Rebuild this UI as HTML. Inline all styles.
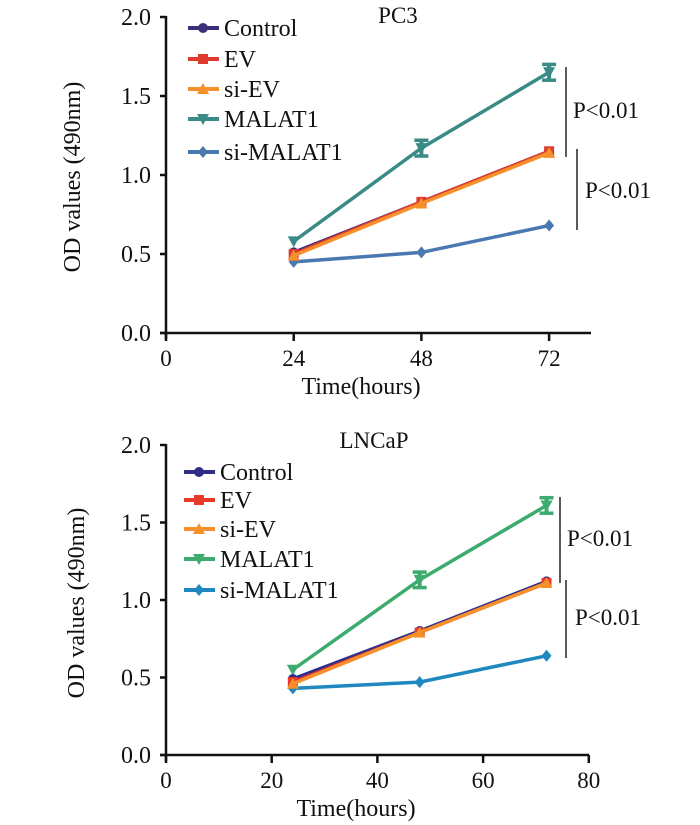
<!DOCTYPE html>
<html><head><meta charset="utf-8"><style>
html,body{margin:0;padding:0;background:#fff;width:700px;height:825px;overflow:hidden}
svg text{font-family:"Liberation Serif",serif;fill:#111}
</style></head><body>
<svg id="svg" width="700" height="825" xmlns="http://www.w3.org/2000/svg"></svg>
<script>
const seriesNames = ["Control","EV","si-EV","MALAT1","si-MALAT1"];
const xTimes = [24,48,72];
const pc3Control = [0.51,0.83,1.15];
const pc3EV = [0.50,0.83,1.15];
const pc3SiEV = [0.49,0.82,1.14];
const pc3MALAT1 = [0.58,1.17,1.65];
const pc3SiMALAT1 = [0.45,0.51,0.68];
const lnControl = [0.49,0.80,1.12];
const lnEV = [0.47,0.79,1.11];
const lnSiEV = [0.46,0.79,1.11];
const lnMALAT1 = [0.55,1.13,1.61];
const lnSiMALAT1 = [0.43,0.47,0.64];
const malatErr = [0,0.05,0.05];
const yTicks = [0,0.5,1.0,1.5,2.0];
const pc3XTicks = [0,24,48,72];
const lnXTicks = [0,20,40,60,80];

const NS="http://www.w3.org/2000/svg";
const svg=document.getElementById('svg');
function mk(tag,attrs,parent){const e=document.createElementNS(NS,tag);for(const k in attrs)e.setAttribute(k,attrs[k]);(parent||svg).appendChild(e);return e;}

function marker(g,shape,x,y,c){
  let e;
  if(shape==='circle'){e=mk('circle',{cx:x,cy:y,r:5,fill:c},g);}
  else if(shape==='square'){e=mk('rect',{x:x-5,y:y-5,width:10,height:10,fill:c},g);}
  else if(shape==='tri'){e=mk('polygon',{points:`${x},${y-6} ${x-6},${y+5} ${x+6},${y+5}`,fill:c},g);}
  else if(shape==='vtri'){e=mk('polygon',{points:`${x},${y+6} ${x-6},${y-5} ${x+6},${y-5}`,fill:c},g);}
  else {e=mk('polygon',{points:`${x},${y-6} ${x+5},${y} ${x},${y+6} ${x-5},${y}`,fill:c},g);}
  return e;
}

function chart(cfg){
  const g=mk('g',{});
  
  
  const X=v=>cfg.x0+(v-cfg.xmin)*cfg.xs;
  const Y=v=>cfg.y0-v*cfg.ys;
  const ya=mk('line',{x1:cfg.x0,y1:Y(2)-1,x2:cfg.x0,y2:cfg.y0+6,stroke:'#111','stroke-width':2.5},g);
  
  const xa=mk('line',{x1:cfg.x0-6,y1:cfg.y0,x2:cfg.xend,y2:cfg.y0,stroke:'#111','stroke-width':2.5},g);
  
  yTicks.forEach(t=>{
    mk('line',{x1:cfg.x0-6,y1:Y(t),x2:cfg.x0,y2:Y(t),stroke:'#111','stroke-width':2.5},g);
    const tx=mk('text',{x:cfg.x0-15,y:Y(t)+8,'text-anchor':'end','font-size':24},g);
    tx.textContent=t.toFixed(1);
    
  });
  cfg.xticks.forEach(t=>{
    mk('line',{x1:X(t),y1:cfg.y0,x2:X(t),y2:cfg.y0+8,stroke:'#111','stroke-width':2.5},g);
    const tx=mk('text',{x:X(t),y:cfg.y0+33,'text-anchor':'middle','font-size':23},g);
    tx.textContent=t;
    
  });
  const xt=mk('text',{x:cfg.xtitleX,y:cfg.y0+61,'text-anchor':'middle','font-size':24},g);
  xt.textContent='Time(hours)';
  const yt=mk('text',{x:0,y:0,'text-anchor':'middle','font-size':24,transform:`translate(${cfg.ytitleX},${cfg.ytitleY}) rotate(-90)`},g);
  yt.textContent='OD values (490nm)';
  const tt=mk('text',{x:cfg.titleX,y:cfg.titleY,'text-anchor':'middle','font-size':23},g);
  tt.textContent=cfg.title;
  const shapes=['circle','square','tri','vtri','diamond'];
  const order=[4,3,0,1,2];
  order.forEach(i=>{
    const d=cfg.data[i],c=cfg.colors[i];
    const sg=mk('g',{},g);
    
    
    const pts=xTimes.map((t,j)=>X(t)+','+Y(d[j])).join(' ');
    mk('polyline',{points:pts,fill:'none',stroke:c,'stroke-width':3.5},sg);
    xTimes.forEach((t,j)=>{
      if(i===3&&malatErr[j]>0){
        const x=X(t),y1=Y(d[j]+malatErr[j]),y2=Y(d[j]-malatErr[j]);
        mk('line',{x1:x,y1:y1,x2:x,y2:y2,stroke:c,'stroke-width':4},sg);
        mk('line',{x1:x-7,y1:y1,x2:x+7,y2:y1,stroke:c,'stroke-width':3.5},sg);
        mk('line',{x1:x-7,y1:y2,x2:x+7,y2:y2,stroke:c,'stroke-width':3.5},sg);
      }
      const m=marker(sg,shapes[i],X(t),Y(d[j]),c);
      
      
    });
  });
  seriesNames.forEach((n,i)=>{
    const lg=mk('g',{},g);
    
    
    const y=cfg.legY[i];
    mk('line',{x1:cfg.legX,y1:y,x2:cfg.legX+31,y2:y,stroke:cfg.colors[i],'stroke-width':4},lg);
    marker(lg,shapes[i],cfg.legX+15,y,cfg.colors[i]);
    const t=mk('text',{x:cfg.legX+36,y:y+8,'font-size':24},lg);
    t.textContent=n;
  });
  cfg.brackets.forEach(b=>{
    const bg=mk('g',{},g);
    
    
    mk('line',{x1:b[0],y1:b[1],x2:b[0],y2:b[2],stroke:'#222','stroke-width':1.5},bg);
    const t=mk('text',{x:b[3],y:b[4]+8,'font-size':23},bg);
    t.textContent='P<0.01';
  });
}

chart({name:'pc3-chart',title:'PC3',titleX:398,titleY:23,x0:166,xmin:0,xs:127.7/24,y0:333,ys:158,xend:591,
  xticks:pc3XTicks,xtitleX:361,ytitleX:80,ytitleY:177,
  data:[pc3Control,pc3EV,pc3SiEV,pc3MALAT1,pc3SiMALAT1],
  colors:['#3b2f7a','#e03a2f','#f5902a','#3a8a86','#4a78b0'],
  legX:188,legY:[28,59,89,119,152],
  brackets:[[566,67,157,573,110],[577,149,230,585,190]]});
chart({name:'lncap-chart',title:'LNCaP',titleX:374,titleY:448,x0:166,xmin:0,xs:105.7/20,y0:755,ys:155,xend:589,
  xticks:lnXTicks,xtitleX:356,ytitleX:84,ytitleY:603,
  data:[lnControl,lnEV,lnSiEV,lnMALAT1,lnSiMALAT1],
  colors:['#2e2e8a','#e8392b','#f5902a','#3dab6e','#1f88c0'],
  legX:184,legY:[472,500,529,559,590],
  brackets:[[560,497,583,567,538],[566,580,658,575,617]]});
</script>
</body></html>
